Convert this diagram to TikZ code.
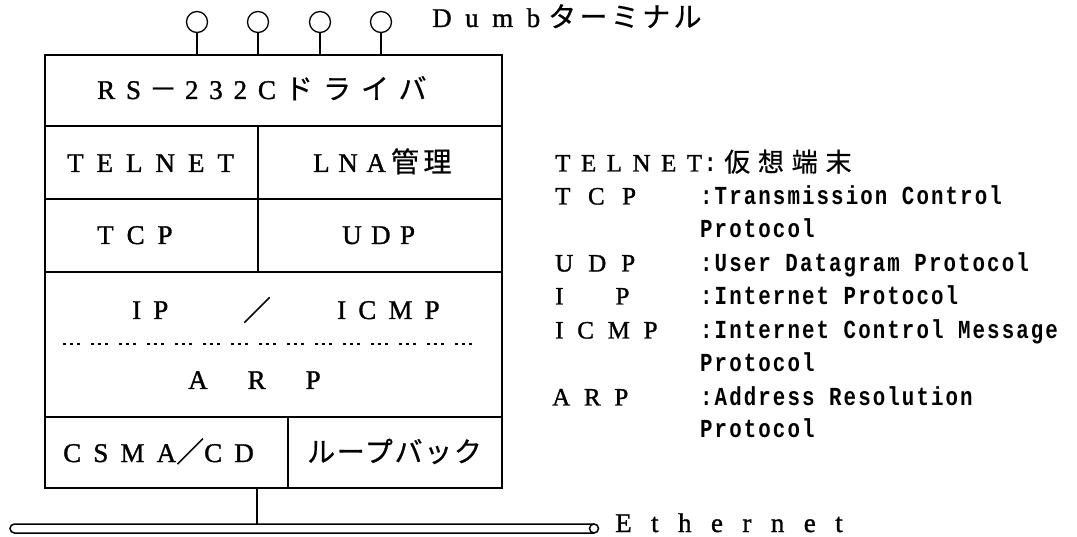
\documentclass[tikz,border=0pt]{standalone}
\usepackage{fontspec}
\newfontfamily\srfont[FakeBold=1.2]{Liberation Serif}
\newfontfamily\jpfont[FakeBold=0.6]{Noto Sans CJK JP}
\newfontfamily\legfont[FakeStretch=0.8]{Liberation Mono}
\newcommand\SR[1]{\fontsize{27}{30}\srfont\addfontfeature{LetterSpace=#1}}
\newcommand\JP[1]{\fontsize{28}{30}\jpfont\addfontfeature{LetterSpace=#1}}
\newcommand\LSR[1]{\fontsize{25}{28}\srfont\addfontfeature{LetterSpace=#1}}
\newcommand\LJP[1]{\fontsize{26}{28}\jpfont\addfontfeature{LetterSpace=#1}}
\newcommand\LG{\fontsize{26}{28}\legfont\bfseries\addfontfeature{LetterSpace=8}}
\tikzset{
  txt/.style={inner sep=0pt, anchor=base west},
  frame/.style={line width=1.6pt},
  term/.style={circle, draw, line width=1.3pt, minimum size=21pt, inner sep=0pt},
  dotsep/.style={line width=1.4pt, dash pattern=on 3pt off 4pt on 3pt off 4pt on 3pt off 11pt},
}
\begin{document}
\begin{tikzpicture}[x=1pt, y=-1pt]
\useasboundingbox (0,0) rectangle (1077,537);
% main box
\node[draw, frame, anchor=north west, minimum width=457pt, minimum height=433pt, inner sep=0pt] (box) at (44,54) {};
\draw[frame] (44,126) -- (501,126);
\draw[frame] (44,199) -- (501,199);
\draw[frame] (44,272) -- (501,272);
\draw[frame] (44,417) -- (501,417);
\draw[frame] (258,126) -- (258,272);
\draw[frame] (288,417) -- (288,487);
\draw[dotsep] (63,344) -- (480,344);
% terminals
\foreach \i/\x in {1/197,2/258,3/320,4/381}{
  \node[term] (t\i) at (\x,22) {};
  \draw[line width=1.3pt] (t\i.south) -- (t\i.south |- box.north);
}
\node[txt] (dumb) at (432,27) {\SR{50}Dumb\hspace{8pt}\JP{12}ターミナル};
% box texts
\node[txt] (rs) at (97,99) {\SR{40}RS\hspace{8pt}\JP{0}－\hspace{8pt}\SR{40}232C\hspace{9pt}\JP{36}ドライバ};
\node[txt] (telnet) at (67,172) {\SR{48}TELNET};
\node[txt] (lna) at (313,172) {\SR{32}LNA\hspace{5pt}\JP{16}管理};
\node[txt] (tcp) at (97,244) {\SR{48}TCP};
\node[txt] (udp) at (342,244) {\SR{35}UDP};
\node[txt] (ip) at (132,319) {\SR{45}IP};
\node[inner sep=0pt] (slash) at (257,310) {\JP{0}／};
\node[txt] (icmp) at (337,319) {\SR{45}ICMP};
\node[txt] (arp) at (188,389) {\SR{0}A\hspace{40pt}R\hspace{40pt}P};
\node[txt] (csma) at (63,462) {\SR{45}CSMA\JP{25}／\SR{45}CD};
\node[txt] (loop) at (307,462) {\JP{6}ループバック};
% ethernet
\coordinate (tap) at (257,524);
\draw[frame] (box.south -| tap) -- (tap);
\draw[line width=1.5pt] (594,524) -- (14.5,524) arc[start angle=270, end angle=90, radius=4.5] -- (594,533);
\draw[line width=1.5pt] (594,528.5) circle (4.5);
\node[txt] (eth) at (615,532) {\SR{72}Ethernet};
% legend
\node[txt] (k0) at (555,171.5) {\LSR{42}TELNET};
\node[txt] (c0) at (704,171.5) {\LG :};
\node[txt] (d0) at (724,171.5) {\LJP{30}仮想端末};
\node[txt] (k1) at (555,204.5) {\LSR{70}TCP};
\node[txt] (d1) at (700,204.5) {\LG :Transmission Control};
\node[txt] (p2) at (700,237.5) {\LG Protocol};
\node[txt] (k3) at (555,271.5) {\LSR{60}UDP};
\node[txt] (d3) at (700,271.5) {\LG :User Datagram Protocol};
\node[txt] (k4) at (555,304.5) {\LSR{0}I\hspace{52pt}P};
\node[txt] (d4) at (700,304.5) {\LG :Internet Protocol};
\node[txt] (k5) at (555,338.5) {\LSR{55}ICMP};
\node[txt] (d5) at (700,338.5) {\LG :Internet Control Message};
\node[txt] (p6) at (700,371.5) {\LG Protocol};
\node[txt] (k7) at (552,405.5) {\LSR{55}ARP};
\node[txt] (d7) at (700,405.5) {\LG :Address Resolution};
\node[txt] (p8) at (700,437.5) {\LG Protocol};
\end{tikzpicture}
\end{document}
